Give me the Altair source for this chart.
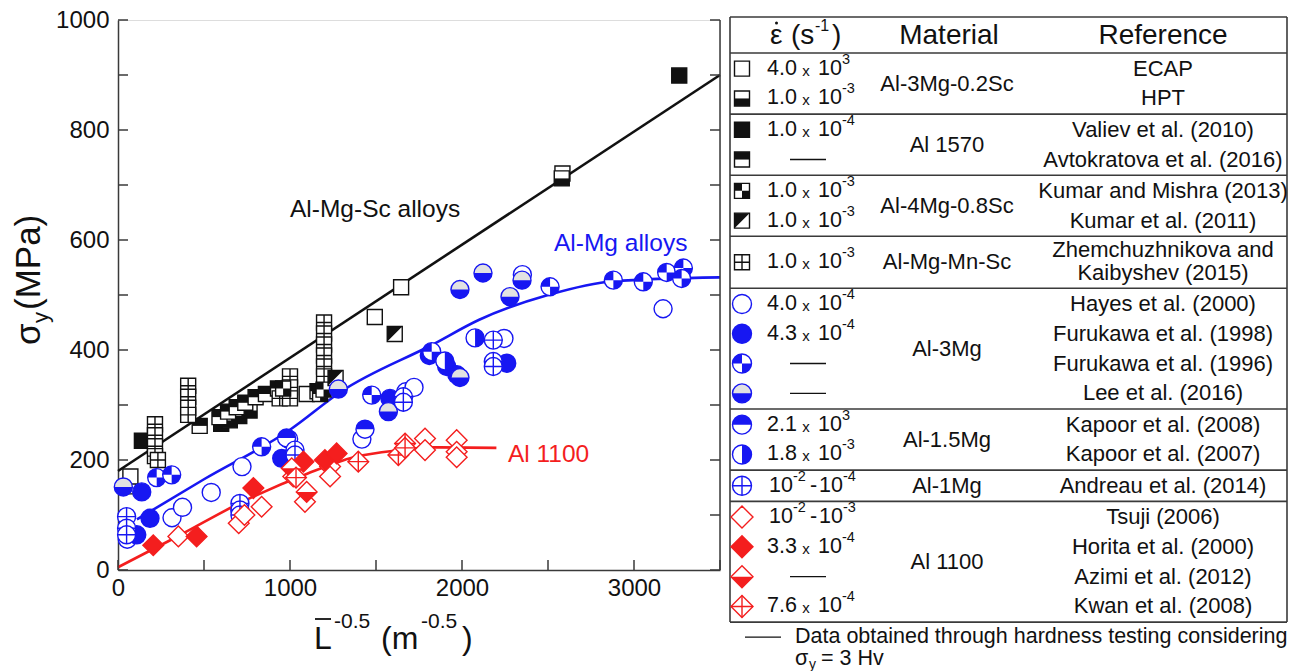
import altair as alt
import pandas as pd

FONT = "Liberation Sans"
INK = "#111111"
AXC = "#3a3a3a"
BLUE = "#1717f2"
RED = "#f41e1e"
LIGHT = "#e2e2e2"

# ---------------- values ----------------
# Al-Mg-Sc alloys (black squares)
ecap_x = [60, 72, 1097, 1493, 1646, 2584]
ecap_y = [152, 170, 320, 460, 514, 721]
hpt_x = [600, 650, 705, 765, 2580]
hpt_y = [266, 272, 280, 290, 712]
valiev_x = [139, 3263]
valiev_y = [235, 899]
avto_x = [475, 590, 640, 690, 740, 800, 860, 930, 1160]
avto_y = [262, 278, 288, 296, 304, 314, 320, 330, 325]
km_x = [960, 1175, 1195]
km_y = [330, 320, 328]
kumar_x = [1265, 1609]
kumar_y = [349, 429]
zhem_x = [215, 215, 215, 215, 232, 408, 408, 408, 408, 940, 1000, 1000, 1000,
          1198, 1198, 1198, 1198, 1198, 1198]
zhem_y = [265, 245, 225, 207, 200, 335, 315, 295, 282, 312, 352, 332, 312,
          450, 430, 410, 390, 370, 352]
# Al-Mg alloys (blue circles)
hayes_x = [54, 314, 375, 542, 710, 721, 992, 1418, 1673, 1721, 2244, 2351, 3169]
hayes_y = [56, 95, 114, 141, 106, 188, 238, 238, 324, 332, 421, 537, 475]
f98_x = [109, 138, 186, 952, 1581, 1810, 1911, 1970, 2260]
f98_y = [64, 142, 94, 203, 312, 390, 370, 355, 376]
f96_x = [225, 312, 835, 1475, 1824, 2512, 2880, 3054, 3190, 3287, 3277]
f96_y = [168, 173, 224, 318, 397, 515, 527, 524, 541, 549, 530]
lee_x = [31, 1281, 1572, 1988, 1988, 2122, 2279, 2349]
lee_y = [151, 329, 288, 350, 510, 540, 497, 527]
kap08_x = [980, 1436]
kap08_y = [240, 256]
kap07_x = [1900, 2076]
kap07_y = [380, 422]
andreau_x = [50, 50, 50, 709, 709, 709, 1029, 1029, 1659, 1659, 2182, 2182, 2182]
andreau_y = [97, 76, 64, 121, 109, 100, 218, 209, 315, 305, 418, 379, 370]
# Al 1100 (red diamonds)
tsuji_x = [351, 702, 735, 835, 1019, 1087, 1233, 1233, 1785, 1785, 1969, 1969, 1969]
tsuji_y = [61, 85, 100, 115, 170, 124, 188, 170, 239, 218, 236, 215, 205]
horita_x = [205, 457, 787, 1078, 1203, 1271]
horita_y = [45, 61, 149, 197, 200, 212]
azimi_x = [1010, 1097]
azimi_y = [185, 142]
kwan_x = [1035, 1397, 1630, 1669, 1669]
kwan_y = [168, 197, 209, 230, 222]

# fitted trend lines
sc_fit_x = [0, 3500]
sc_fit_y = [180, 900]
mg_fit_x = [110, 500, 1000, 1300, 1830, 2100, 2500, 2880, 3500]
mg_fit_y = [92, 165, 255, 325, 410, 455, 500, 525, 532]
al_fit_x = [0, 340, 730, 1100, 1370, 1640, 1820, 2200]
al_fit_y = [5, 60, 125, 175, 205, 218, 223, 222]

y_major = [0, 200, 400, 600, 800, 1000]
y_minor = list(range(0, 1001, 100))
x_major = [0, 1000, 2000, 3000]
x_minor = list(range(0, 3501, 500))

# ---------------- glyphs ----------------
SQ_BOTTOM = "M-1,0H1V1H-1Z"
SQ_TOP = "M-1,-1H1V0H-1Z"
SQ_CHECK = "M-1,-1H0V0H-1Z M0,0H1V1H0Z"
SQ_DIAG = "M-1,-1H1L-1,1Z"
CROSS = "M0,-1V1M-1,0H1"
C_TOP = "M-1,0A1,1,0,0,1,1,0Z"
C_BOTTOM = "M-1,0A1,1,0,0,0,1,0Z"
C_RIGHT = "M0,-1A1,1,0,0,1,0,1Z"
C_QUAD = "M0,0L-1,0A1,1,0,0,1,0,-1Z M0,0L1,0A1,1,0,0,1,0,1Z"
D_BOTTOM = "M-1,0L1,0L0,1Z"
T = "transparent"

GLYPHS = {
    "ecap": [("square", "white", INK)],
    "hpt": [("square", "white", INK), (SQ_BOTTOM, INK, T)],
    "valiev": [("square", INK, INK)],
    "avto": [("square", "white", INK), (SQ_TOP, INK, T)],
    "km": [("square", "white", INK), (SQ_CHECK, INK, T)],
    "kumar": [("square", "white", INK), (SQ_DIAG, INK, T)],
    "zhem": [("square", "white", INK), (CROSS, T, INK)],
    "hayes": [("circle", "white", BLUE)],
    "f98": [("circle", BLUE, BLUE)],
    "f96": [("circle", "white", BLUE), (C_QUAD, BLUE, T)],
    "lee": [("circle", LIGHT, BLUE), (C_BOTTOM, BLUE, T)],
    "kap08": [("circle", "white", BLUE), (C_TOP, BLUE, T)],
    "kap07": [("circle", "white", BLUE), (C_RIGHT, BLUE, T)],
    "andreau": [("circle", "white", BLUE), (CROSS, T, BLUE)],
    "tsuji": [("diamond", "white", RED)],
    "horita": [("diamond", RED, RED)],
    "azimi": [("diamond", "white", RED), (D_BOTTOM, RED, T)],
    "kwan": [("diamond", "white", RED), (CROSS, T, RED)],
}
FAMILY = {k: ("sq" if GLYPHS[k][0][0] == "square" else "ci" if GLYPHS[k][0][0] == "circle" else "di")
          for k in GLYPHS}
PLOT_SIZE = {"sq": 225, "ci": 324, "di": 430}
LEG_SIZE = {"sq": 225, "ci": 361, "di": 484}

SERIES = [
    ("ecap", ecap_x, ecap_y), ("hpt", hpt_x, hpt_y), ("valiev", valiev_x, valiev_y),
    ("avto", avto_x, avto_y), ("zhem", zhem_x, zhem_y), ("km", km_x, km_y),
    ("kumar", kumar_x, kumar_y),
    ("hayes", hayes_x, hayes_y), ("f98", f98_x, f98_y), ("f96", f96_x, f96_y),
    ("lee", lee_x, lee_y), ("kap08", kap08_x, kap08_y), ("kap07", kap07_x, kap07_y),
    ("andreau", andreau_x, andreau_y),
    ("tsuji", tsuji_x, tsuji_y), ("horita", horita_x, horita_y),
    ("azimi", azimi_x, azimi_y), ("kwan", kwan_x, kwan_y),
]

rows = []
for key, xs, ys in SERIES:
    for xv, yv in zip(xs, ys):
        for shape, fill, stroke in GLYPHS[key]:
            rows.append(dict(x=xv, y=yv, shape=shape, fill=fill, stroke=stroke,
                             size=PLOT_SIZE[FAMILY[key]]))
points_df = pd.DataFrame(rows)

line_rows = []
for grp, col, xs, ys in [("sc", INK, sc_fit_x, sc_fit_y), ("mg", BLUE, mg_fit_x, mg_fit_y),
                         ("al", RED, al_fit_x, al_fit_y)]:
    for xv, yv in zip(xs, ys):
        line_rows.append(dict(group=grp, color=col, x=xv, y=yv))
lines_df = pd.DataFrame(line_rows)

XS = alt.Scale(domain=[0, 3500], nice=False, zero=False)
YS = alt.Scale(domain=[0, 1000], nice=False, zero=False)
W, H = 602, 550

x_axis = alt.Axis(values=x_major, format="d", labelFont=FONT, labelFontSize=24, labelColor=INK,
                  ticks=False, tickSize=0, grid=False, title=None, labelPadding=6,
                  domainColor=AXC, domainWidth=1.5, labelFlush=False)
y_axis = alt.Axis(values=y_major, format="d", labelFont=FONT, labelFontSize=24, labelColor=INK,
                  ticks=False, tickSize=0, grid=False, title=None, labelPadding=9,
                  domainColor=AXC, domainWidth=1.5)


def PX(field="x"):
    return alt.X(f"{field}:Q", scale=XS, axis=x_axis)


def PY(field="y"):
    return alt.Y(f"{field}:Q", scale=YS, axis=y_axis)


lines = alt.Chart(lines_df).mark_line(strokeWidth=2.6, interpolate="monotone").encode(
    x=PX(), y=PY(), color=alt.Color("color:N", scale=None), detail="group:N")

points = alt.Chart(points_df).mark_point(opacity=1, strokeWidth=1.4, filled=False).encode(
    x=PX(), y=PY(),
    shape=alt.Shape("shape:N", scale=None),
    fill=alt.Fill("fill:N", scale=None),
    stroke=alt.Stroke("stroke:N", scale=None),
    size=alt.Size("size:Q", scale=None),
)

tick_y_df = pd.DataFrame({"y": y_minor})
tick_x_df = pd.DataFrame({"x": x_minor})
ticks_left = alt.Chart(tick_y_df).mark_rule(color=AXC, strokeWidth=1.5).encode(
    y=PY(), x=alt.value(0), x2=alt.value(10))
ticks_right = alt.Chart(tick_y_df).mark_rule(color=AXC, strokeWidth=1.5).encode(
    y=PY(), x=alt.value(W - 10), x2=alt.value(W))
ticks_bottom = alt.Chart(tick_x_df).mark_rule(color=AXC, strokeWidth=1.5).encode(
    x=PX(), y=alt.value(H - 10), y2=alt.value(H))
one = pd.DataFrame({"k": [0]})
right_border = alt.Chart(one).mark_rule(color=AXC, strokeWidth=1.5).encode(
    x=alt.value(W), y=alt.value(0), y2=alt.value(H))

ann_df = pd.DataFrame({
    "x": [1000, 2535, 2267],
    "y": [655, 593, 210],
    "label": ["Al-Mg-Sc alloys", "Al-Mg alloys", "Al 1100"],
    "color": [INK, BLUE, RED],
})
annotations = alt.Chart(ann_df).mark_text(font=FONT, fontSize=24.5, align="left", baseline="middle").encode(
    x=PX(), y=PY(), text="label:N", color=alt.Color("color:N", scale=None))


def free_text(txt, x, y, size, angle=0, baseline="alphabetic", align="left"):
    return alt.Chart(one).mark_text(text=txt, font=FONT, fontSize=size, color=INK, align=align,
                                    baseline=baseline, angle=angle).encode(
        x=alt.value(x), y=alt.value(y))


# axis titles built from pieces (super/subscripts, overline)
title_layers = [
    free_text("L", 196, 629, 32),
    alt.Chart(one).mark_rule(color=INK, strokeWidth=1.8).encode(
        x=alt.value(197), x2=alt.value(213), y=alt.value(599)),
    free_text("-0.5", 216, 608, 21),
    free_text("(m", 263, 629, 32),
    free_text("-0.5", 303, 608, 21),
    free_text(")", 344, 629, 32),
    free_text("\u03c3", -78, 325, 35, angle=270),
    free_text("y", -70, 303, 22, angle=270),
    free_text("(MPa)", -78, 290, 35, angle=270),
]

plot = alt.layer(lines, ticks_left, ticks_right, ticks_bottom, right_border, points,
                 annotations, *title_layers)

# ---------------- legend table ----------------
table_groups = [
    ("Al-3Mg-0.2Sc", ["ecap", "hpt"]),
    ("Al 1570", ["valiev", "avto"]),
    ("Al-4Mg-0.8Sc", ["km", "kumar"]),
    ("Al-Mg-Mn-Sc", ["zhem"]),
    ("Al-3Mg", ["hayes", "f98", "f96", "lee"]),
    ("Al-1.5Mg", ["kap08", "kap07"]),
    ("Al-1Mg", ["andreau"]),
    ("Al 1100", ["tsuji", "horita", "azimi", "kwan"]),
]
rates = {
    "ecap": ("4.0", "3"), "hpt": ("1.0", "-3"), "valiev": ("1.0", "-4"), "avto": None,
    "km": ("1.0", "-3"), "kumar": ("1.0", "-3"), "zhem": ("1.0", "-3"),
    "hayes": ("4.0", "-4"), "f98": ("4.3", "-4"), "f96": None, "lee": None,
    "kap08": ("2.1", "3"), "kap07": ("1.8", "-3"),
    "andreau": ("range", "-2", "-4"),
    "tsuji": ("range", "-2", "-3"), "horita": ("3.3", "-4"), "azimi": None, "kwan": ("7.6", "-4"),
}
refs = {
    "ecap": ["ECAP"], "hpt": ["HPT"], "valiev": ["Valiev et al. (2010)"],
    "avto": ["Avtokratova et al. (2016)"], "km": ["Kumar and Mishra (2013)"],
    "kumar": ["Kumar et al. (2011)"], "zhem": ["Zhemchuzhnikova and", "Kaibyshev (2015)"],
    "hayes": ["Hayes et al. (2000)"], "f98": ["Furukawa et al. (1998)"],
    "f96": ["Furukawa et al. (1996)"], "lee": ["Lee et al. (2016)"],
    "kap08": ["Kapoor et al. (2008)"], "kap07": ["Kapoor et al. (2007)"],
    "andreau": ["Andreau et al. (2014)"], "tsuji": ["Tsuji (2006)"],
    "horita": ["Horita et al. (2000)"], "azimi": ["Azimi et al. (2012)"],
    "kwan": ["Kwan et al. (2008)"],
}

TABLE_W = 557
TX = alt.Scale(domain=[0, TABLE_W], range=[612, 1169], nice=False, zero=False)
TY = alt.Scale(domain=[0, 601], range=[-3, 598], nice=False, zero=False)
HEAD_H = 36.0
RH = 29.8

sep_y = [0.0, HEAD_H]
sym_rows, main_rows, xs_rows, exp_rows, mat_rows, ref_rows, dash_rows = [], [], [], [], [], [], []
cur = HEAD_H
for material, members in table_groups:
    two_line = len(refs[members[0]]) == 2
    h = 52.0 if two_line else len(members) * RH + 1.5
    mat_rows.append(dict(tx=217, ty=cur + h / 2, text=material))
    for i, key in enumerate(members):
        cy = cur + h / 2 if two_line else cur + 0.75 + RH * (i + 0.5)
        for shape, fill, stroke in GLYPHS[key]:
            sym_rows.append(dict(tx=12, ty=cy, shape=shape, fill=fill, stroke=stroke,
                                 size=LEG_SIZE[FAMILY[key]]))
        r = rates[key]
        if r is None:
            dash_rows.append(dict(tx=60, tx2=96, ty=cy))
        elif r[0] == "range":
            main_rows += [dict(tx=39, ty=cy, text="10"), dict(tx=80, ty=cy, text="-"),
                          dict(tx=89, ty=cy, text="10")]
            exp_rows += [dict(tx=63, ty=cy, text=r[1]), dict(tx=113, ty=cy, text=r[2])]
        else:
            main_rows += [dict(tx=37, ty=cy, text=r[0]), dict(tx=88, ty=cy, text="10")]
            xs_rows.append(dict(tx=76, ty=cy, text="x"))
            exp_rows.append(dict(tx=112, ty=cy, text=r[1]))
        if two_line:
            ref_rows += [dict(tx=433, ty=cur + 14, text=refs[key][0]),
                         dict(tx=433, ty=cur + 37, text=refs[key][1])]
        else:
            ref_rows.append(dict(tx=433, ty=cy, text=refs[key][0]))
    cur += h
    sep_y.append(cur)
table_bottom = cur


def tlayer(df, **props):
    return alt.Chart(pd.DataFrame(df)).mark_text(font=FONT, color=INK, **props).encode(
        x=alt.X("tx:Q", scale=TX, axis=None), y=alt.Y("ty:Q", scale=TY, axis=None), text="text:N")


HEAD_Y = HEAD_H / 2 + 1
head_rows = [dict(tx=219, ty=HEAD_Y, text="Material"),
             dict(tx=433, ty=HEAD_Y, text="Reference")]
head_left = [dict(tx=40, ty=HEAD_Y, text="\u03b5"),
             dict(tx=61, ty=HEAD_Y, text="(s"),
             dict(tx=102, ty=HEAD_Y, text=")")]
head_exp = [dict(tx=85, ty=HEAD_Y, text="-1")]
head_dot = pd.DataFrame([dict(tx=46.5, ty=HEAD_Y - 13)])

foot1 = table_bottom + 15
foot2 = table_bottom + 37
foot_rows = [dict(tx=65, ty=foot1, text="Data obtained through hardness testing considering"),
             dict(tx=65, ty=foot2, text="\u03c3"),
             dict(tx=91, ty=foot2, text="= 3 Hv")]
foot_sub = [dict(tx=79, ty=foot2, text="y")]

hrules = pd.DataFrame({"tx": [0] * len(sep_y), "tx2": [TABLE_W] * len(sep_y), "ty": sep_y})
vrules = pd.DataFrame({"tx": [0, TABLE_W], "ty": [0, 0], "ty2": [table_bottom, table_bottom]})
dash_df = pd.DataFrame(dash_rows + [dict(tx=15, tx2=51, ty=foot1)])

table_layers = [
    alt.Chart(hrules).mark_rule(color=AXC, strokeWidth=1.6).encode(
        x=alt.X("tx:Q", scale=TX, axis=None), x2="tx2:Q", y=alt.Y("ty:Q", scale=TY, axis=None)),
    alt.Chart(vrules).mark_rule(color=AXC, strokeWidth=1.6).encode(
        x=alt.X("tx:Q", scale=TX, axis=None), y=alt.Y("ty:Q", scale=TY, axis=None), y2="ty2:Q"),
    alt.Chart(dash_df).mark_rule(color=INK, strokeWidth=1.4).encode(
        x=alt.X("tx:Q", scale=TX, axis=None), x2="tx2:Q", y=alt.Y("ty:Q", scale=TY, axis=None)),
    alt.Chart(pd.DataFrame(sym_rows)).mark_point(opacity=1, strokeWidth=1.4, filled=False).encode(
        x=alt.X("tx:Q", scale=TX, axis=None), y=alt.Y("ty:Q", scale=TY, axis=None),
        shape=alt.Shape("shape:N", scale=None), fill=alt.Fill("fill:N", scale=None),
        stroke=alt.Stroke("stroke:N", scale=None), size=alt.Size("size:Q", scale=None)),
    alt.Chart(head_dot).mark_point(shape="circle", filled=True, color=INK, opacity=1, size=9).encode(
        x=alt.X("tx:Q", scale=TX, axis=None), y=alt.Y("ty:Q", scale=TY, axis=None)),
    tlayer(main_rows, fontSize=21.5, align="left", baseline="middle"),
    tlayer(xs_rows, fontSize=15, align="center", baseline="middle", dy=2),
    tlayer(exp_rows, fontSize=14.5, align="left", baseline="middle", dy=-9),
    tlayer(mat_rows, fontSize=22, align="center", baseline="middle"),
    tlayer(ref_rows, fontSize=22, align="center", baseline="middle"),
    tlayer(head_rows, fontSize=28, align="center", baseline="middle"),
    tlayer(head_left, fontSize=28, align="left", baseline="middle"),
    tlayer(head_exp, fontSize=16, align="left", baseline="middle", dy=-10),
    tlayer(foot_rows, fontSize=21.5, align="left", baseline="middle"),
    tlayer(foot_sub, fontSize=14, align="left", baseline="middle", dy=6),
]
table = alt.layer(*table_layers)

chart = alt.layer(plot, table).resolve_scale(x="independent", y="independent").properties(
    width=W, height=H,
    autosize=alt.AutoSizeParams(type="none"),
    padding={"left": 118, "top": 20, "right": 578, "bottom": 101},
).configure_view(stroke=None).configure(background="white")

chart.save("out.html", embed_options={"renderer": "svg", "actions": False})
